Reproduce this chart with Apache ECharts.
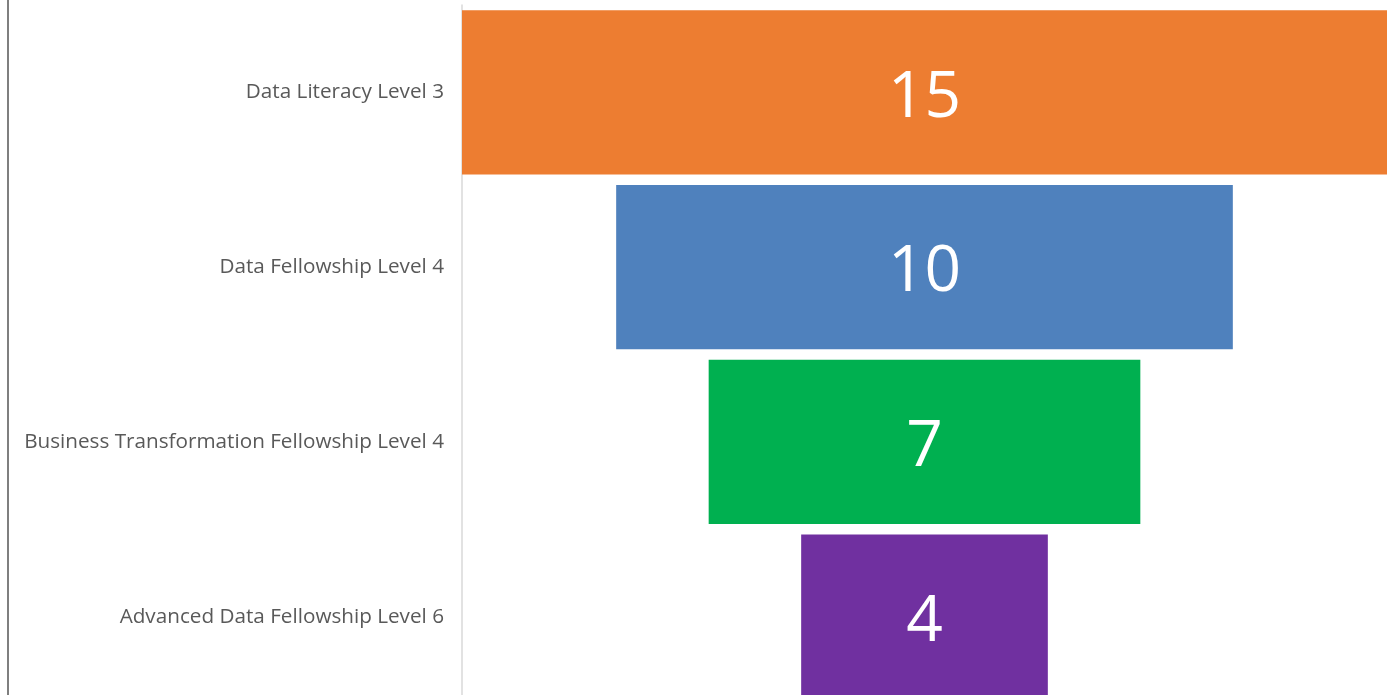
<!DOCTYPE html>
<html>
<head>
<meta charset="utf-8">
<script src="https://cdn.jsdelivr.net/npm/echarts@6/dist/echarts.min.js"></script>
<style>
  html, body { margin: 0; padding: 0; background: #fff; overflow: hidden; }
  #chart { height: 695px; box-sizing: border-box; border-left: 2px solid #7f7f7f; margin-left: 7px; width: 1389px; }
</style>
</head>
<body>
<div id="chart"></div>
<script>
const categories = [
  'Data Literacy Level 3',
  'Data Fellowship Level 4',
  'Business Transformation Fellowship Level 4',
  'Advanced Data Fellowship Level 6'
];
const values = [15, 10, 7, 4];
const colors = ['#ED7D31', '#4F81BD', '#00B050', '#7030A0'];
const maxValue = 15;

// transparent padding so each bar sits centred like a funnel
const offsets = values.map((v) => (maxValue - v) / 2);

const chart = echarts.init(document.getElementById('chart'));

chart.setOption({
  animation: false,
  grid: { left: 453, right: 9, top: 5, height: 699, outerBoundsMode: 'none' },
  xAxis: {
    type: 'value',
    min: 0,
    max: maxValue,
    show: false,
  },
  yAxis: {
    type: 'category',
    inverse: true,
    data: categories,
    axisLine: { show: true, lineStyle: { color: '#d9d9d9', width: 1.5 } },
    axisTick: { show: false },
    axisLabel: {
      color: '#595959',
      fontFamily: 'Open Sans',
      fontSize: 20.7,
      margin: 18,
    },
  },
  series: [
    {
      type: 'bar',
      stack: 'funnel',
      data: offsets,
      itemStyle: { color: 'transparent' },
      barCategoryGap: '6%',
      silent: true,
    },
    {
      type: 'bar',
      stack: 'funnel',
      data: values.map((v, i) => ({ value: v, itemStyle: { color: colors[i] } })),
      barCategoryGap: '6%',
      label: {
        show: true,
        position: 'inside',
        offset: [0, 6],
        color: '#fff',
        fontFamily: 'Open Sans',
        fontSize: 64,
      },
    },
  ],
});
</script>
</body>
</html>
